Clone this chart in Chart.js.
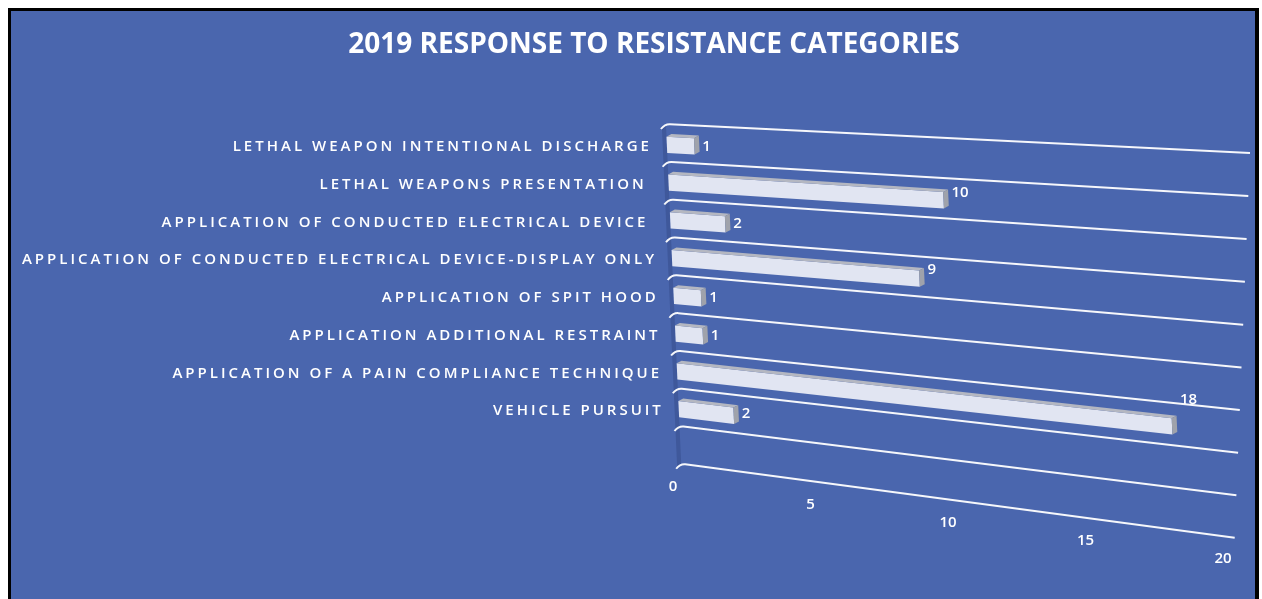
<!DOCTYPE html>
<html>
<head>
<meta charset="utf-8">
<script src="https://cdn.jsdelivr.net/npm/chart.js@4.4.1/dist/chart.umd.min.js"></script>
<style>
html,body{margin:0;padding:0;background:#fff;overflow:hidden}
#wrap{width:1262px;height:599px;position:relative}
</style>
</head>
<body>
<div id="wrap"><canvas id="c" width="1262" height="599"></canvas></div>
<script>
// ---- data ----
const title = '2019 RESPONSE TO RESISTANCE CATEGORIES';
const categories = [
  'LETHAL WEAPON INTENTIONAL DISCHARGE',
  'LETHAL WEAPONS PRESENTATION ',
  'APPLICATION OF CONDUCTED ELECTRICAL DEVICE ',
  'APPLICATION OF CONDUCTED ELECTRICAL DEVICE-DISPLAY ONLY',
  'APPLICATION OF SPIT HOOD',
  'APPLICATION ADDITIONAL RESTRAINT',
  'APPLICATION OF A PAIN COMPLIANCE TECHNIQUE',
  'VEHICLE PURSUIT'
];
const values = [1, 10, 2, 9, 1, 1, 18, 2];
const axisMin = 0;
const axisMax = 20;
const axisStep = 5;

// ---- style ----
const BLUE = '#4a66ae';
const WALL = '#3f589b';
const FRONT = '#e1e5f2';
const TOPF = '#b4b7c1';
const SIDEF = '#9fa2ab';
const S = 0.045;           // slant of the left wall
const DX = 5, DY = 3;      // bar depth
function slopeAt(y, a) {
  const f = (y - a.top) / (a.bottom - a.top);
  return 0.05 + f * 0.075;
}

const persp = {
  id: 'persp',
  beforeDraw(chart) {
    const ctx = chart.ctx;
    ctx.save();
    ctx.fillStyle = '#ffffff';
    ctx.fillRect(0, 0, 1262, 599);
    ctx.fillStyle = '#000000';
    ctx.fillRect(8, 8, 1251, 591);
    ctx.fillStyle = BLUE;
    ctx.fillRect(11, 11, 1244, 588);
    ctx.restore();
  },
  beforeDatasetsDraw(chart) {
    const ctx = chart.ctx, a = chart.chartArea;
    const n = categories.length;
    const h = (a.bottom - a.top) / n;
    const xl = y => a.left + S * (y - a.top);
    ctx.save();
    // left wall
    const yTop = a.top - 2, yBot = a.top + (n + 1) * h - 2;
    ctx.fillStyle = WALL;
    ctx.beginPath();
    ctx.moveTo(xl(yTop) - 4, yTop + 4);
    ctx.lineTo(xl(yTop), yTop);
    ctx.lineTo(xl(yBot), yBot);
    ctx.lineTo(xl(yBot) - 4, yBot + 4);
    ctx.closePath();
    ctx.fill();
    // gridlines
    ctx.strokeStyle = 'rgba(255,255,255,0.95)';
    ctx.lineWidth = 2;
    for (let i = 0; i <= n + 1; i++) {
      const y = a.top + i * h - 2;
      const k = slopeAt(y, a);
      const x0 = xl(y);
      const x1 = a.right + 34 - i * 1.7;
      ctx.beginPath();
      ctx.moveTo(x0 - 5, y + 5);
      ctx.quadraticCurveTo(x0 - 1, y, x0 + 4, y + k * 4);
      ctx.lineTo(x1, y + k * (x1 - x0));
      ctx.stroke();
    }
    ctx.restore();
  },
  beforeDatasetDraw(chart, args) {
    const ctx = chart.ctx, a = chart.chartArea;
    args.meta.data.forEach(bar => {
      const p = bar.getProps(['x', 'y', 'base', 'height'], true);
      const k = slopeAt(p.y, a);
      ctx.save();
      ctx.transform(1, k, S, 1, -S * a.top, -k * a.left);
      bar.draw(ctx);
      const yt = p.y - p.height / 2, yb = p.y + p.height / 2;
      const xe = p.x, xb = p.base;
      ctx.fillStyle = TOPF;
      ctx.beginPath();
      ctx.moveTo(xb, yt); ctx.lineTo(xe, yt); ctx.lineTo(xe + DX, yt - DY); ctx.lineTo(xb + DX, yt - DY);
      ctx.closePath(); ctx.fill();
      ctx.fillStyle = SIDEF;
      ctx.beginPath();
      ctx.moveTo(xe, yt); ctx.lineTo(xe + DX, yt - DY); ctx.lineTo(xe + DX, yb - DY); ctx.lineTo(xe, yb);
      ctx.closePath(); ctx.fill();
      ctx.restore();
    });
    return false;
  },
  afterDatasetsDraw(chart) {
    const ctx = chart.ctx, a = chart.chartArea;
    const ys = chart.scales.y, xs = chart.scales.x;
    ctx.save();
    ctx.fillStyle = '#ffffff';
    // value labels
    ctx.font = '600 15px "Open Sans"';
    ctx.textAlign = 'left';
    ctx.textBaseline = 'middle';
    const meta = chart.getDatasetMeta(0);
    meta.data.forEach((bar, i) => {
      const p = bar.getProps(['x', 'y'], true);
      const k = slopeAt(p.y, a);
      const x = p.x + S * (p.y - a.top) + 8;
      const y = p.y + 0.5 * k * (p.x - a.left) + 1;
      ctx.fillText(String(values[i]), x, y);
    });
    // category labels
    ctx.font = '600 15px "Open Sans"';
    ctx.letterSpacing = '3px';
    ctx.textAlign = 'right';
    categories.forEach((c, i) => {
      const y = ys.getPixelForValue(i) + 2;
      const x = a.left - 15 + S * (y - a.top);
      ctx.fillText(c, x, y);
    });
    ctx.letterSpacing = '0px';
    // value axis tick labels
    ctx.font = '600 15px "Open Sans"';
    ctx.textAlign = 'center';
    xs.ticks.forEach(t => {
      const x = xs.getPixelForValue(t.value) + 7;
      const y = a.bottom + 60 + 0.13 * (x - (a.left + 15));
      ctx.fillText(String(t.value), x, y);
    });
    ctx.restore();
  }
};

new Chart(document.getElementById('c'), {
  type: 'bar',
  data: {
    labels: categories,
    datasets: [{
      data: values,
      backgroundColor: FRONT,
      borderWidth: 0,
      barPercentage: 0.9,
      categoryPercentage: 0.48
    }]
  },
  options: {
    indexAxis: 'y',
    responsive: false,
    animation: false,
    devicePixelRatio: 1,
    layout: { padding: { left: 92, right: 46, top: 0, bottom: 171 } },
    plugins: {
      legend: { display: false },
      tooltip: { enabled: false },
      title: {
        display: true,
        text: title,
        color: '#ffffff',
        font: { family: '"Open Sans"', size: 28, weight: 'bold', lineHeight: 1.2 },
        padding: { top: 28, bottom: 64.4 }
      }
    },
    scales: {
      y: {
        grid: { display: false },
        border: { display: false },
        ticks: { display: false },
        afterFit(s) { s.width = 574; }
      },
      x: {
        min: axisMin,
        max: axisMax,
        ticks: { stepSize: axisStep, display: false },
        grid: { display: false },
        border: { display: false },
        afterFit(s) { s.height = 0; }
      }
    }
  },
  plugins: [persp]
});
</script>
</body>
</html>
